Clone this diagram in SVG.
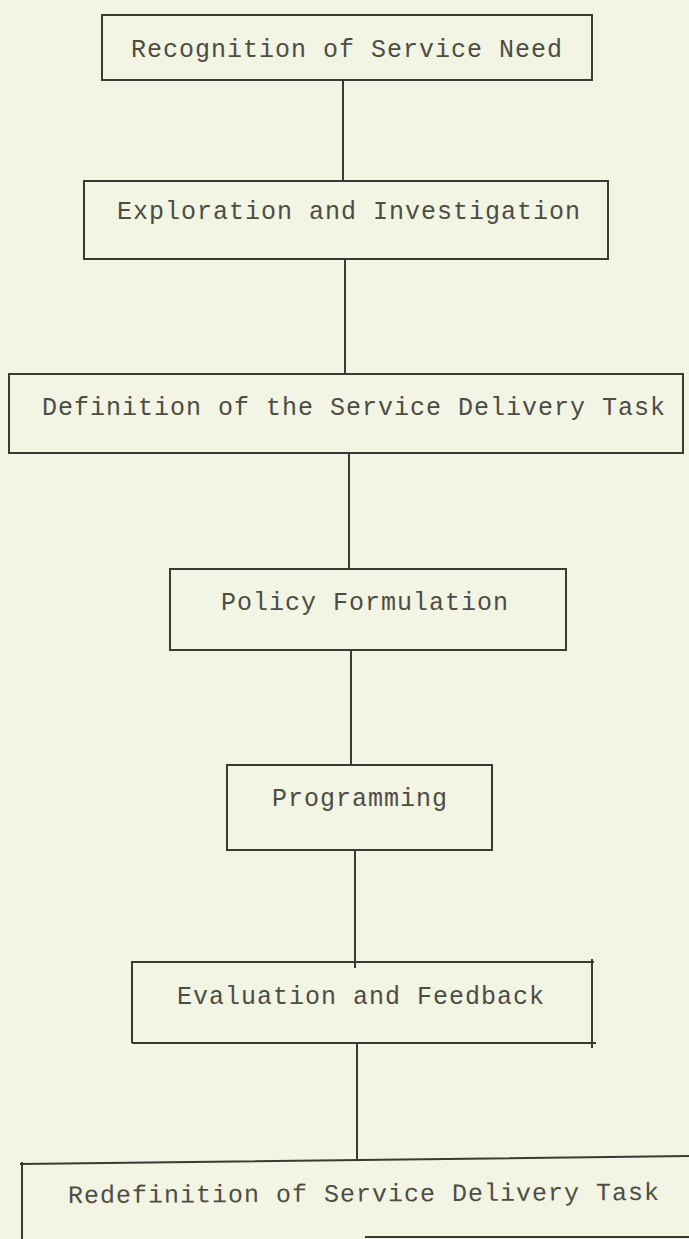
<svg xmlns="http://www.w3.org/2000/svg" width="689" height="1239" viewBox="0 0 689 1239">
<style>
.bx{fill:none;stroke:#3a3a34;stroke-width:2}
.ln{fill:none;stroke:#3a3a34;stroke-width:2}
.t{font-family:"Liberation Mono","DejaVu Sans Mono",monospace;font-size:25px;letter-spacing:1px;fill:#4d4d45}
</style>
<rect width="689" height="1239" fill="#f2f4e4"/>
<g id="connectors">
<line class="ln" x1="343" y1="80" x2="343" y2="181"/>
<line class="ln" x1="345" y1="259" x2="345" y2="374"/>
<line class="ln" x1="349" y1="453" x2="349" y2="569"/>
<line class="ln" x1="351" y1="650" x2="351" y2="765"/>
<line class="ln" x1="355" y1="850" x2="355" y2="968"/>
<line class="ln" x1="357" y1="1043" x2="357" y2="1160"/>
</g>
<g id="n1"><rect class="bx" x="102" y="15" width="490" height="65"/><text class="t" x="131" y="57">Recognition of Service Need</text></g>
<g id="n2"><rect class="bx" x="84" y="181" width="524" height="78"/><text class="t" x="117" y="219">Exploration and Investigation</text></g>
<g id="n3"><rect class="bx" x="9" y="374" width="674" height="79"/><text class="t" x="42" y="415">Definition of the Service Delivery Task</text></g>
<g id="n4"><rect class="bx" x="170" y="569" width="396" height="81"/><text class="t" x="221" y="610">Policy Formulation</text></g>
<g id="n5"><rect class="bx" x="227" y="765" width="265" height="85"/><text class="t" x="272" y="806">Programming</text></g>
<g id="n6"><path class="bx" d="M132 1043 V962 H594 M592 959 V1048 M132 1043 H596"/><text class="t" x="177" y="1004">Evaluation and Feedback</text></g>
<g id="n7"><path class="bx" d="M20 1164 L689 1156 M22 1162 V1239 M365 1237 H689"/><text class="t" x="68" y="1203" transform="rotate(-0.3 68 1203)">Redefinition of Service Delivery Task</text></g>
</svg>
